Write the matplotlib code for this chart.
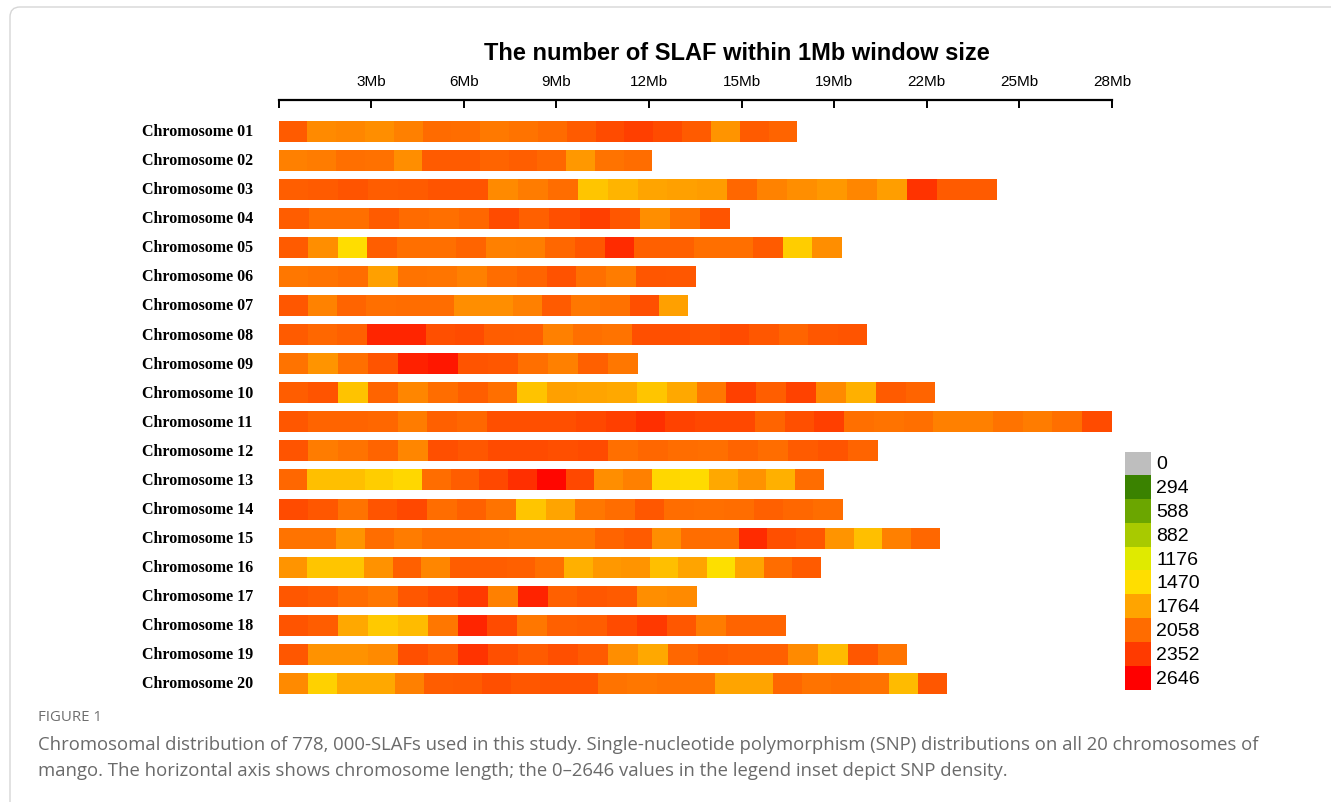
import numpy as np
import matplotlib
matplotlib.use("Agg")
import matplotlib.pyplot as plt
from matplotlib.colors import LinearSegmentedColormap, Normalize
from matplotlib.patches import Rectangle, FancyBboxPatch
from matplotlib.transforms import blended_transform_factory

# ---------------- data ----------------
chromosomes = ["Chromosome %02d" % i for i in range(1, 21)]
lengths_mb = [17.43, 12.56, 24.12, 15.17, 18.93, 14.01, 13.76, 19.77, 12.08, 22.07,
              28.00, 20.14, 18.32, 18.95, 22.22, 18.22, 14.06, 17.05, 21.13, 22.47]

chr01 = [2150, 1900, 1920, 1880, 1950, 2060, 2050, 1990, 2020, 2060, 2150, 2250, 2320, 2250, 2150, 1850, 2150, 2100]
chr02 = [1950, 1970, 2040, 2030, 1880, 2150, 2150, 2100, 2130, 2080, 1820, 2020, 2050]
chr03 = [2130, 2150, 2200, 2140, 2150, 2200, 2200, 1900, 1970, 2050, 1600, 1680, 1760, 1780, 1800, 2080, 1940, 1880, 1820, 1920, 1790, 2380, 2160, 2150]
chr04 = [2140, 2040, 2040, 2160, 2060, 2040, 2080, 2250, 2120, 2230, 2320, 2180, 1880, 2020, 2200]
chr05 = [2160, 1880, 1470, 2130, 2040, 2040, 2100, 1950, 1960, 2080, 2180, 2420, 2120, 2120, 2040, 2040, 2160, 1560, 1880]
chr06 = [2000, 2020, 2050, 1780, 2020, 2010, 1950, 2050, 2100, 2210, 2040, 1970, 2190, 2180]
chr07 = [2180, 1940, 2100, 2040, 2050, 2050, 1880, 1880, 1950, 2160, 2000, 2030, 2230, 1780]
chr08 = [2160, 2080, 2120, 2450, 2450, 2230, 2250, 2140, 2130, 1950, 2040, 2020, 2230, 2230, 2200, 2250, 2180, 2100, 2180, 2200]
chr09 = [2020, 1840, 2040, 2200, 2480, 2530, 2200, 2180, 2040, 1950, 2120, 2000]
chr10 = [2140, 2200, 1610, 2100, 1920, 2050, 2130, 2040, 1610, 1780, 1760, 1740, 1600, 1740, 2000, 2310, 2130, 2300, 1900, 1700, 2150, 2100]
chr11 = [2180, 2100, 2100, 2080, 1970, 2120, 2080, 2230, 2230, 2230, 2270, 2320, 2400, 2300, 2270, 2270, 2100, 2230, 2320, 2040, 2020, 2040, 1950, 1950, 2020, 1970, 2040, 2250]
chr12 = [2200, 1970, 2020, 2100, 1920, 2230, 2180, 2250, 2250, 2230, 2250, 2040, 2080, 2050, 2040, 2100, 2050, 2160, 2200, 2100]
chr13 = [2080, 1630, 1630, 1560, 1500, 2050, 2140, 2270, 2400, 2610, 2270, 1880, 1950, 1500, 1480, 1740, 1860, 1700, 2050]
chr14 = [2250, 2180, 2020, 2200, 2270, 2050, 2120, 2020, 1600, 1760, 2000, 2050, 2180, 2050, 2040, 2050, 2120, 2080, 2050]
chr15 = [2020, 2020, 1840, 2050, 1970, 2040, 2040, 2020, 2000, 2000, 2000, 2100, 2160, 1880, 2050, 2040, 2420, 2230, 2180, 1840, 1630, 1950, 2080]
chr16 = [1840, 1600, 1600, 1860, 2120, 1920, 2140, 2140, 2120, 2040, 1700, 1820, 1840, 1630, 1760, 1450, 1760, 2050, 2160]
chr17 = [2180, 2140, 2050, 2000, 2180, 2250, 2350, 1950, 2460, 2120, 2180, 2160, 1880, 1900]
chr18 = [2200, 2140, 1740, 1580, 1650, 2000, 2450, 2250, 2000, 2120, 2140, 2250, 2350, 2180, 1970, 2100, 2100]
chr19 = [2180, 1860, 1860, 1900, 2230, 2140, 2380, 2230, 2160, 2230, 2160, 1880, 1740, 2080, 2150, 2120, 2120, 1900, 1650, 2180, 2020]
chr20 = [1900, 1540, 1740, 1740, 1950, 2140, 2160, 2230, 2180, 2200, 2200, 2020, 2000, 2020, 2020, 1760, 1760, 2080, 2020, 2040, 2020, 1650, 2180]

density = [chr01, chr02, chr03, chr04, chr05, chr06, chr07, chr08, chr09, chr10,
           chr11, chr12, chr13, chr14, chr15, chr16, chr17, chr18, chr19, chr20]

legend_values = [0, 294, 588, 882, 1176, 1470, 1764, 2058, 2352, 2646]
legend_colors = ["#BEBEBE", "#3A8200", "#6BA600", "#A8CA00", "#E0EA00",
                 "#FFDE00", "#FFA400", "#FF6C00", "#FF3A00", "#FF0000"]

x_tick_labels = ["", "3Mb", "6Mb", "9Mb", "12Mb", "15Mb", "19Mb", "22Mb", "25Mb", "28Mb"]
x_max = 28.0

title = "The number of SLAF within 1Mb window size"
fig_label = "FIGURE 1"
caption_lines = [
    "Chromosomal distribution of 778, 000-SLAFs used in this study. Single-nucleotide polymorphism (SNP) distributions on all 20 chromosomes of",
    "mango. The horizontal axis shows chromosome length; the 0\u20132646 values in the legend inset depict SNP density.",
]

# ---------------- figure ----------------
W, H = 1331, 803
fig = plt.figure(figsize=(W / 100, H / 100), dpi=100)
fig.patch.set_facecolor("white")

def fx(px):
    return px / W

def fy(py):
    return 1 - py / H

# outer frame (only left/top visible)
frame = FancyBboxPatch((10, -30), 1400, H - 8 + 30,
                       boxstyle="round,pad=0,rounding_size=10",
                       transform=None, facecolor="none", edgecolor="#D6D6D6", lw=1.0)
fig.add_artist(frame)

ax_left, ax_right = 278.5, 1112
ax_top, ax_bot = 101, 700
ax = fig.add_axes([fx(ax_left), fy(ax_bot), fx(ax_right - ax_left), (ax_bot - ax_top) / H])

cmap = LinearSegmentedColormap.from_list(
    "slaf", [(v / legend_values[-1], c) for v, c in zip(legend_values, legend_colors)])
norm = Normalize(vmin=0, vmax=legend_values[-1])

row_first, row_last = 132.0, 684.5
spacing = (row_last - row_first) / 19
bar_h = 21.0 / spacing

for i, (vals, L) in enumerate(zip(density, lengths_mb)):
    n = len(vals)
    xe = np.linspace(0, L, n + 1)
    ye = [i - bar_h / 2, i + bar_h / 2]
    ax.pcolormesh(xe, ye, np.array(vals, dtype=float)[None, :], cmap=cmap, norm=norm,
                  shading="flat", antialiased=False, linewidth=0)

ax.set_xlim(0, x_max)
y_top = -(row_first - ax_top) / spacing
y_bot = 19 + (ax_bot - row_last) / spacing
ax.set_ylim(y_bot, y_top)

for s in ["left", "right", "bottom"]:
    ax.spines[s].set_visible(False)
ax.spines["top"].set_linewidth(1.6)
ax.spines["top"].set_color("black")
ax.xaxis.tick_top()
ax.set_xticks(np.linspace(0, x_max, len(x_tick_labels)))
ax.set_xticklabels(x_tick_labels, fontsize=11, family="Liberation Sans")
ax.tick_params(axis="x", direction="in", length=5.5, width=1.4, pad=8.5, colors="black")
ax.set_yticks([])
ax.patch.set_alpha(0)

# chromosome labels
trans = blended_transform_factory(fig.transFigure, ax.transData)
for i, name in enumerate(chromosomes):
    ax.text(fx(142), i, name, transform=trans, ha="left", va="center",
            fontsize=11.5, fontweight="bold", family="Liberation Serif", color="black")

# title
fig.text(fx(737), fy(53), title, ha="center", va="center", fontsize=17,
         fontweight="bold", family="Liberation Sans", color="black")

# legend
lg_top, lg_bot = 452.5, 690.5
box_h = (lg_bot - lg_top) / len(legend_values)
for k, (v, c) in enumerate(zip(legend_values, legend_colors)):
    y0 = lg_top + k * box_h
    fig.add_artist(Rectangle((fx(1125), fy(y0 + box_h)), fx(26), box_h / H,
                             transform=fig.transFigure, facecolor=c, edgecolor="none"))
    fig.text(fx(1156), fy(y0 + box_h / 2 + 0.5), str(v), ha="left", va="center",
             fontsize=14, family="Liberation Sans", color="black")

# caption
renderer = fig.canvas.get_renderer()
fl = fig.text(fx(38), fy(718), fig_label, ha="left", va="center", fontsize=9.5,
              family="Open Sans", color="#6E6E6E")
bb = fl.get_window_extent(renderer=renderer)
fl.set_fontsize(9.5 * 64 / bb.width)

c1 = fig.text(fx(38), fy(745), caption_lines[0], ha="left", va="center",
              fontsize=12, family="Open Sans", color="#6A6A6A")
bb = c1.get_window_extent(renderer=renderer)
cap_fs = 12 * 1214 / bb.width
c1.set_fontsize(cap_fs)
fig.text(fx(38), fy(771), caption_lines[1], ha="left", va="center",
         fontsize=cap_fs, family="Open Sans", color="#6A6A6A")

fig.savefig("out.png", dpi=100, facecolor="white")
